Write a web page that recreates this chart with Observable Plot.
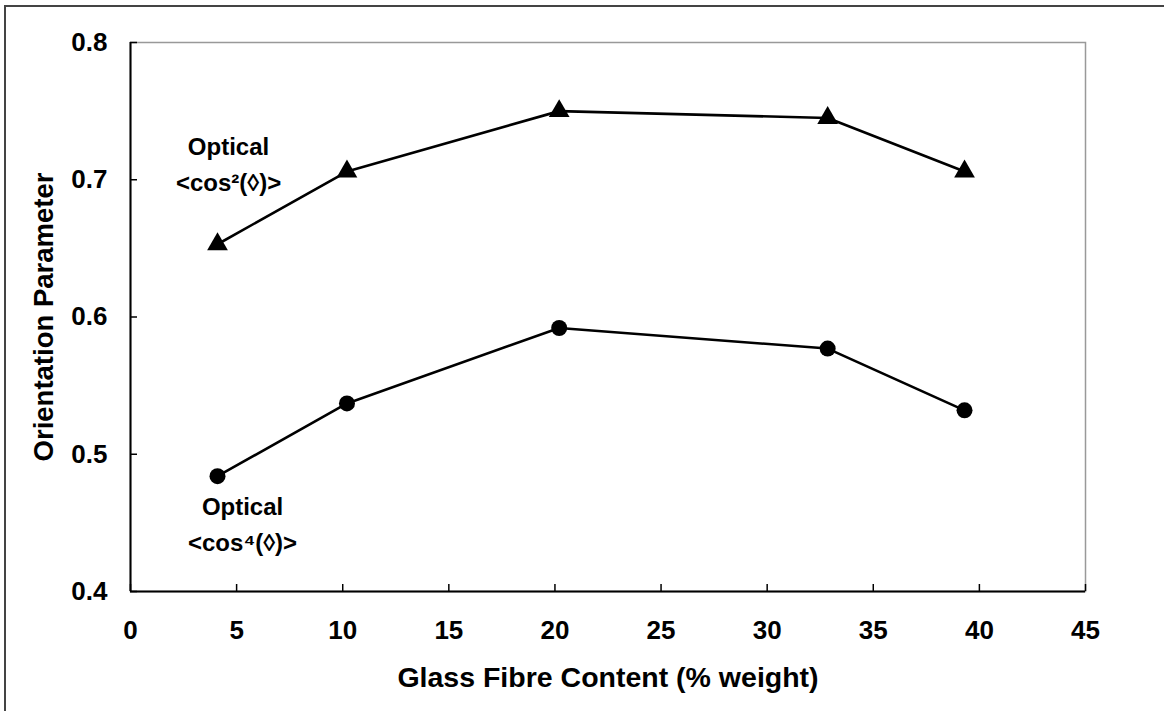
<!DOCTYPE html>
<html>
<head>
<meta charset="utf-8">
<script src="https://cdn.jsdelivr.net/npm/d3@7"></script>
<script src="https://cdn.jsdelivr.net/npm/@observablehq/plot@0.6"></script>
<style>
  html, body { margin: 0; padding: 0; background: #fff; }
  #wrap { position: relative; width: 1164px; height: 711px; overflow: hidden; }
  #outer { position: absolute; left: 4px; top: 5px; width: 1200px; height: 760px;
           border-left: 2px solid #444; border-top: 2px solid #444; pointer-events: none; }
  svg { font-family: "Liberation Sans", Arial, sans-serif; font-weight: bold; }
</style>
</head>
<body>
<div id="wrap"><div id="outer"></div></div>
<script>
// Glass fibre content (% weight)
const fibreContent = [4.1, 10.2, 20.2, 32.85, 39.3];
// Optical <cos^2> orientation parameter
const cos2Values = [0.653, 0.706, 0.750, 0.745, 0.706];
// Optical <cos^4> orientation parameter
const cos4Values = [0.484, 0.537, 0.592, 0.577, 0.532];
// Axis ticks
const xTicks = [0, 5, 10, 15, 20, 25, 30, 35, 40, 45];
const yTicks = [0.4, 0.5, 0.6, 0.7, 0.8];
// Annotation labels (data coordinates)
const labelText = ["Optical\n<cos²(◊)>", "Optical\n<cos⁴(◊)>"];
const labelX = [4.62, 5.28];
const labelY = [0.7132, 0.451];

const cos2 = fibreContent.map((x, i) => ({x, y: cos2Values[i]}));
const cos4 = fibreContent.map((x, i) => ({x, y: cos4Values[i]}));
const labels = labelText.map((t, i) => ({t, x: labelX[i], y: labelY[i]}));

const chart = Plot.plot({
  width: 1164,
  height: 711,
  marginLeft: 130,
  marginRight: 79,
  marginTop: 42,
  marginBottom: 120,
  style: {background: "transparent", fontFamily: "Liberation Sans, Arial, sans-serif"},
  x: {domain: [0, 45]},
  y: {domain: [0.4, 0.8]},
  marks: [
    Plot.frame({stroke: "#999", strokeWidth: 1.5}),
    Plot.ruleX([0], {stroke: "#000", strokeWidth: 2}),
    Plot.ruleY([0.4], {stroke: "#000", strokeWidth: 2}),
    Plot.axisX({ticks: xTicks, tickSize: -7, tickPadding: 36, fontSize: 26, fontWeight: "bold",
                stroke: "#000", strokeWidth: 1.5, label: null, fill: "#000"}),
    Plot.axisY({ticks: yTicks, tickSize: -7, tickPadding: 30, fontSize: 26, fontWeight: "bold",
                tickFormat: d3.format(".1f"), stroke: "#000", strokeWidth: 1.5, label: null, fill: "#000"}),
    Plot.text(["Glass Fibre Content (% weight)"], {frameAnchor: "bottom", dy: 95, fontSize: 28.5,
                fontWeight: "bold", fill: "#000"}),
    Plot.text(["Orientation Parameter"], {frameAnchor: "left", dx: -86, rotate: -90, fontSize: 27.5,
                textAnchor: "middle", fontWeight: "bold", fill: "#000"}),
    Plot.line(cos2, {x: "x", y: "y", stroke: "#000", strokeWidth: 2.6}),
    Plot.line(cos4, {x: "x", y: "y", stroke: "#000", strokeWidth: 2.6}),
    Plot.dot(cos2, {x: "x", y: "y", symbol: "triangle", r: 7.7, fill: "#000", stroke: "none"}),
    Plot.dot(cos4, {x: "x", y: "y", symbol: "circle", r: 8, fill: "#000", stroke: "none"}),
    Plot.text(labels, {x: "x", y: "y", text: "t", fontSize: 24, fontWeight: "bold", fill: "#000",
                lineHeight: 1.5, lineAnchor: "middle", textAnchor: "middle"})
  ]
});
document.getElementById("wrap").prepend(chart);
</script>
</body>
</html>
